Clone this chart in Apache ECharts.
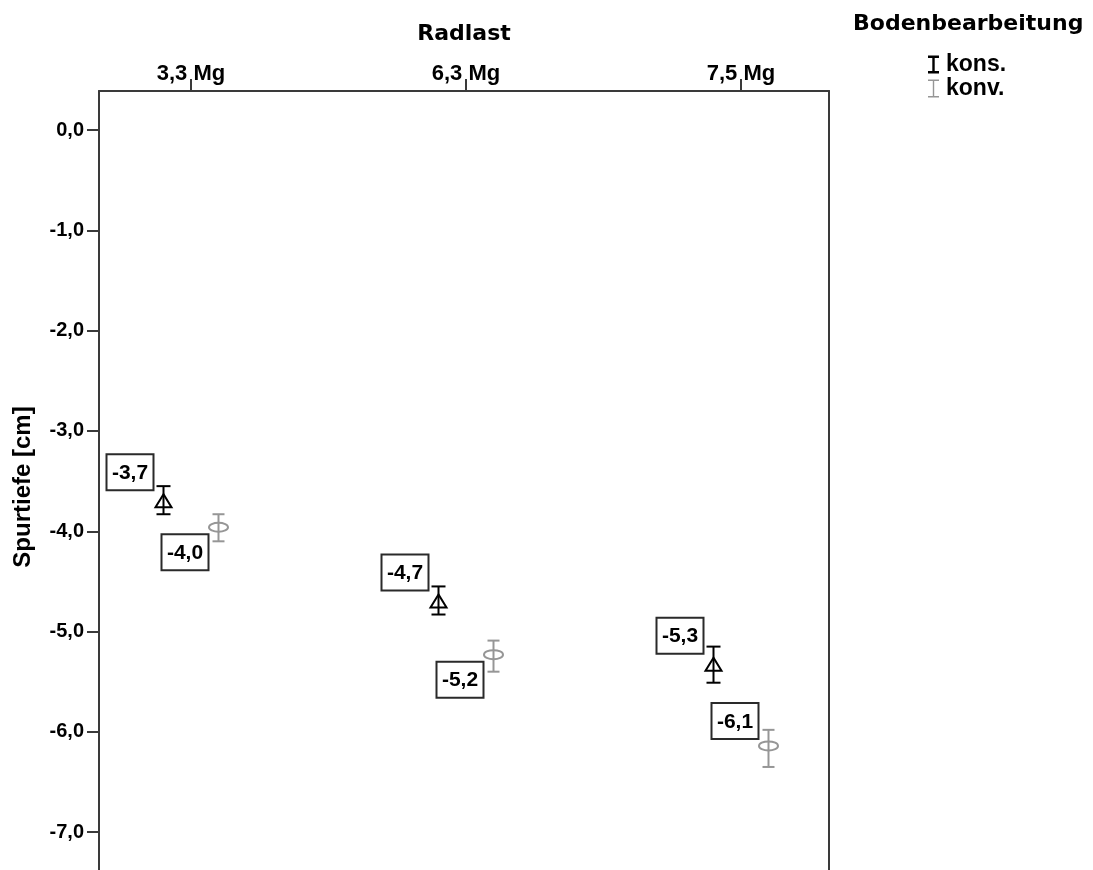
<!DOCTYPE html>
<html>
<head>
<meta charset="utf-8">
<title>Spurtiefe nach Radlast und Bodenbearbeitung</title>
<script src="https://cdn.jsdelivr.net/npm/echarts@6/dist/echarts.min.js"></script>
<style>
  html, body { margin: 0; padding: 0; background: #fff; }
  #chart { width: 1093px; height: 870px; }
</style>
</head>
<body>
<div id="chart"></div>
<script>
// Radlast categories and the two tillage groups
const loads = ['3,3 Mg', '6,3 Mg', '7,5 Mg'];
const groups = ['kons.', 'konv.'];

// Mean rut depth (cm) with error bar limits, konservierend
const konsMean = [-3.70, -4.70, -5.33];
const konsLow  = [-3.83, -4.83, -5.51];
const konsHigh = [-3.55, -4.55, -5.15];

// Mean rut depth (cm) with error bar limits, konventionell
const konvMean = [-3.96, -5.23, -6.14];
const konvLow  = [-4.10, -5.40, -6.35];
const konvHigh = [-3.83, -5.09, -5.98];

// y-axis tick values
const yTicks = [0, -1, -2, -3, -4, -5, -6, -7];

// where each value box sits relative to its marker
const konsLabelSide = ['up', 'up', 'up'];
const konvLabelSide = ['down', 'down', 'up'];

const FONT = "'Liberation Sans', Arial, Helvetica, sans-serif";
const TITLE_FONT = "'DejaVu Sans', Verdana, sans-serif";
const AXIS_COLOR = '#3a3a3a';
const KONS_COLOR = '#000000';
const KONV_COLOR = '#969696';
const GROUP_SHIFT = 0.1;

const fmt = v => v.toFixed(1).replace('.', ',');

function makeRows(mean, low, high) {
  return mean.map((m, i) => [i, m, low[i], high[i]]);
}

function makeRenderer(shift, color, marker, sides) {
  return function (params, api) {
    const i = params.dataIndex;
    const xv = api.value(0) + shift;
    const mean = api.value(1);
    const p = api.coord([xv, mean]);
    const top = api.coord([xv, api.value(3)]);
    const bot = api.coord([xv, api.value(2)]);
    const capHalf = marker === 'triangle' ? 7 : 6;
    const lineStyle = { stroke: color, lineWidth: 2 };
    const children = [
      { type: 'line', shape: { x1: p[0], y1: top[1], x2: p[0], y2: bot[1] }, style: lineStyle },
      { type: 'line', shape: { x1: p[0] - capHalf, y1: top[1], x2: p[0] + capHalf, y2: top[1] }, style: lineStyle },
      { type: 'line', shape: { x1: p[0] - capHalf, y1: bot[1], x2: p[0] + capHalf, y2: bot[1] }, style: lineStyle }
    ];
    if (marker === 'triangle') {
      children.push({
        type: 'polygon',
        shape: { points: [[p[0], p[1] - 7], [p[0] - 8, p[1] + 6], [p[0] + 8, p[1] + 6]] },
        style: { fill: 'none', stroke: color, lineWidth: 2 }
      });
    } else {
      children.push({
        type: 'ellipse',
        shape: { cx: p[0], cy: p[1], rx: 9.5, ry: 4.5 },
        style: { fill: 'none', stroke: color, lineWidth: 2 }
      });
    }
    // value box up-left or down-left of the marker
    const bw = 47, bh = 36;
    const right = p[0] - 10;
    const side = sides[i];
    const by = side === 'up' ? p[1] - (marker === 'triangle' ? 11 : 7) - bh : p[1] + 7;
    children.push({
      type: 'rect',
      shape: { x: right - bw, y: by, width: bw, height: bh },
      style: { fill: '#ffffff', stroke: '#2a2a2a', lineWidth: 2 }
    });
    children.push({
      type: 'text',
      style: {
        text: fmt(mean),
        x: right - bw / 2,
        y: by + bh / 2 + 1,
        align: 'center',
        verticalAlign: 'middle',
        fill: '#000',
        font: 'bold 21px ' + FONT
      }
    });
    return { type: 'group', children: children };
  };
}

const chart = echarts.init(document.getElementById('chart'), null, { renderer: 'canvas' });

const gridTop = 91;
const pxPerUnit = 100.29;
const yMax = 0.39;
const yMin = yMax - (870 - gridTop) / pxPerUnit;

chart.setOption({
  animation: false,
  backgroundColor: '#ffffff',
  title: {
    text: 'Bodenbearbeitung',
    left: 848,
    top: 8,
    textStyle: { fontFamily: TITLE_FONT, fontWeight: 'bold', fontSize: 22, color: '#000' }
  },
  legend: {
    orient: 'vertical',
    left: 923,
    top: 48,
    itemGap: 1,
    itemWidth: 11,
    itemHeight: 18,
    textStyle: { fontFamily: FONT, fontWeight: 'bold', fontSize: 23, color: '#000', padding: [0, 0, 0, 2] },
    data: [
      { name: groups[0], icon: 'path://M0,0H11V2.5H6.7V15.5H11V18H0V15.5H4.3V2.5H0Z' },
      { name: groups[1], icon: 'path://M0,0H11V1.6H6.2V16.4H11V18H0V16.4H4.8V1.6H0Z' }
    ]
  },
  grid: {
    left: 99,
    top: gridTop,
    width: 730,
    bottom: 0,
    show: false
  },
  xAxis: {
    type: 'value',
    position: 'top',
    min: -92 / 275,
    max: -92 / 275 + 730 / 275,
    name: 'Radlast',
    nameLocation: 'middle',
    nameGap: 46,
    nameTextStyle: { fontFamily: TITLE_FONT, fontWeight: 'bold', fontSize: 22, color: '#000' },
    axisLine: { show: true, onZero: false, lineStyle: { color: AXIS_COLOR, width: 2 } },
    axisTick: { show: true, length: 12, customValues: [0, 1, 2], lineStyle: { color: AXIS_COLOR, width: 2 } },
    axisLabel: {
      customValues: [0, 1, 2],
      formatter: v => loads[Math.round(v)],
      margin: 6,
      fontFamily: FONT, fontWeight: 'bold', fontSize: 22, color: '#000'
    },
    splitLine: { show: false }
  },
  yAxis: [
    {
      type: 'value',
      min: yMin,
      max: yMax,
      name: 'Spurtiefe [cm]',
      nameLocation: 'middle',
      nameGap: 64,
      nameTextStyle: { fontFamily: FONT, fontWeight: 'bold', fontSize: 24, color: '#000', padding: [0, 13, 0, 0] },
      axisLine: { show: true, onZero: false, lineStyle: { color: AXIS_COLOR, width: 2 } },
      axisTick: { show: true, length: 12, customValues: yTicks, lineStyle: { color: AXIS_COLOR, width: 2 } },
      axisLabel: {
        customValues: yTicks,
        formatter: v => fmt(v),
        margin: 15,
        fontFamily: FONT, fontWeight: 'bold', fontSize: 20, color: '#000'
      },
      splitLine: { show: false }
    },
    {
      // right-hand frame line
      type: 'value',
      position: 'right',
      min: yMin,
      max: yMax,
      axisLine: { show: true, onZero: false, lineStyle: { color: AXIS_COLOR, width: 2 } },
      axisTick: { show: false },
      axisLabel: { show: false },
      splitLine: { show: false }
    }
  ],
  series: [
    {
      name: groups[0],
      type: 'custom',
      itemStyle: { color: KONS_COLOR },
      encode: { x: 0, y: 1 },
      renderItem: makeRenderer(-GROUP_SHIFT, KONS_COLOR, 'triangle', konsLabelSide),
      data: makeRows(konsMean, konsLow, konsHigh),
      z: 3
    },
    {
      name: groups[1],
      type: 'custom',
      itemStyle: { color: KONV_COLOR },
      encode: { x: 0, y: 1 },
      renderItem: makeRenderer(GROUP_SHIFT, KONV_COLOR, 'ellipse', konvLabelSide),
      data: makeRows(konvMean, konvLow, konvHigh),
      z: 3
    }
  ]
});
</script>
</body>
</html>
